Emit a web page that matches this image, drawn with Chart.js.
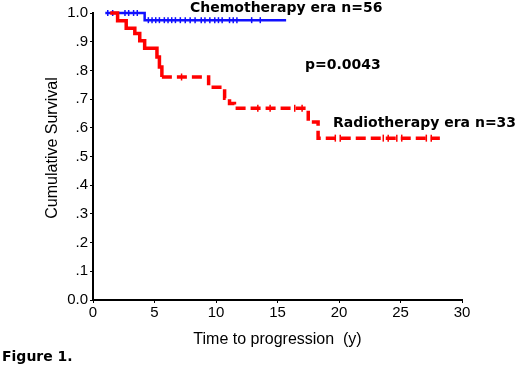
<!DOCTYPE html>
<html lang="en">

<head>
    <meta charset="UTF-8">
    <title>Figure 1</title>
    <script src="https://cdn.jsdelivr.net/npm/chart.js"></script>
    <style>
        html, body { margin: 0; padding: 0; background: #fff; }
        #grafico { display: block; }
    </style>
</head>

<body>
    <canvas id="grafico" width="520" height="368"></canvas>

<script>
    // tempos (anos) e sobrevida acumulada
    const tempoQuimio = [1.0, 4.2, 15.7];
    const sobrevidaQuimio = [1.0, 0.975, 0.975];
    const censuraQuimio = [1.2, 1.6, 2.6, 2.9, 3.3, 3.6, 4.5, 4.8, 5.1, 5.4, 5.8, 6.1, 6.4, 6.7, 7.1, 7.5, 7.9, 8.3,
        8.8, 9.1, 9.5, 9.9, 10.2, 10.5, 11.1, 11.4, 11.7, 12.9, 13.6];

    const tempoRadio = [1.4, 2.0, 2.7, 3.4, 3.8, 4.2, 5.2, 5.4, 5.6, 9.4, 10.7, 11.1, 11.5, 17.5, 18.3, 28.2];
    const sobrevidaRadio = [1.0, 0.973, 0.947, 0.929, 0.903, 0.877, 0.847, 0.812, 0.777, 0.741, 0.703, 0.685, 0.668,
        0.62, 0.564, 0.564];
    const censuraRadio = [7.2, 13.4, 14.4, 16.4, 17.0, 19.7, 20.1, 23.6, 24.0, 24.7, 25.1, 27.1, 27.5];

    const ticksX = [0, 5, 10, 15, 20, 25, 30];
    const rotulosY = ['0.0', '.1', '.2', '.3', '.4', '.5', '.6', '.7', '.8', '.9', '1.0'];

    const rotuloQuimio = 'Chemotherapy era n=56';
    const rotuloRadio = 'Radiotherapy era n=33';
    const rotuloP = 'p=0.0043';

    // nivel da curva num tempo t (degrau)
    function nivel(tempos, valores, t) {
        let v = valores[0];
        for (let i = 0; i < tempos.length; i++) {
            if (tempos[i] <= t) v = valores[i];
        }
        return v;
    }

    function pontos(tempos, valores) {
        return tempos.map((t, i) => ({ x: t, y: valores[i] }));
    }

    function pontosCensura(censuras, tempos, valores) {
        return censuras.map(t => ({ x: t, y: nivel(tempos, valores, t) }));
    }

    const azul = '#1010ff';
    const vermelho = '#ff0000';

    const textos = {
        id: 'textos',
        afterDraw(chart) {
            const ctx = chart.ctx;
            ctx.save();
            ctx.fillStyle = '#000';
            ctx.textBaseline = 'middle';
            ctx.textAlign = 'left';
            ctx.font = 'bold 14px "DejaVu Sans"';
            ctx.fillText(rotuloQuimio, 190, 8);
            ctx.fillText(rotuloP, 305, 65);
            ctx.fillText(rotuloRadio, 333, 123);
            ctx.fillText('Figure 1.', 2, 357);

            ctx.font = '16px "Liberation Sans", Arial';
            ctx.textAlign = 'center';
            ctx.translate(53, 148);
            ctx.rotate(-Math.PI / 2);
            ctx.fillText('Cumulative Survival', 0, 0);
            ctx.restore();
        }
    };

    const config = {
        type: 'line',
        data: {
            datasets: [{
                label: rotuloQuimio,
                data: pontos(tempoQuimio, sobrevidaQuimio),
                borderColor: azul,
                borderWidth: 2.5,
                stepped: 'before',
                pointRadius: 0,
                fill: false,
                clip: 6,
                order: 2
            },
            {
                label: rotuloRadio,
                data: pontos(tempoRadio, sobrevidaRadio),
                borderColor: vermelho,
                borderWidth: 3.5,
                stepped: 'before',
                pointRadius: 0,
                fill: false,
                clip: 6,
                order: 1,
                segment: {
                    borderDash: c => c.p0.parsed.x >= 5.6 ? [10, 5] : undefined
                }
            },
            {
                label: 'censura quimio',
                data: pontosCensura(censuraQuimio, tempoQuimio, sobrevidaQuimio),
                showLine: false,
                pointStyle: 'line',
                rotation: 90,
                pointRadius: 3,
                pointBorderWidth: 1.5,
                pointBorderColor: azul,
                clip: 6,
                order: 2
            },
            {
                label: 'censura radio',
                data: pontosCensura(censuraRadio, tempoRadio, sobrevidaRadio),
                showLine: false,
                pointStyle: 'line',
                rotation: 90,
                pointRadius: 3.5,
                pointBorderWidth: 1.5,
                pointBorderColor: vermelho,
                clip: 6,
                order: 0
            }]
        },
        options: {
            responsive: false,
            animation: false,
            devicePixelRatio: 1,
            layout: { padding: { top: 13, right: 58, left: 0, bottom: 0 } },
            plugins: {
                legend: { display: false },
                tooltip: { enabled: false }
            },
            scales: {
                x: {
                    type: 'linear',
                    min: 0,
                    max: 30,
                    afterBuildTicks: s => { s.ticks = ticksX.map(v => ({ value: v })); },
                    ticks: {
                        color: '#000',
                        font: { family: '"Liberation Sans", Arial', size: 15 },
                        padding: 1,
                        maxRotation: 0
                    },
                    grid: { drawOnChartArea: false, drawTicks: true, tickLength: 3, color: '#000' },
                    border: { display: true, color: '#000', width: 2 },
                    title: {
                        display: true,
                        text: 'Time to progression  (y)',
                        color: '#000',
                        font: { family: '"Liberation Sans", Arial', size: 16 },
                        padding: { top: 4, bottom: 19 }
                    },
                    afterFit: s => { s.height = 68; }
                },
                y: {
                    min: 0,
                    max: 1,
                    afterBuildTicks: s => { s.ticks = rotulosY.map((r, i) => ({ value: i / 10 })); },
                    ticks: {
                        color: '#000',
                        font: { family: '"Liberation Sans", Arial', size: 15 },
                        padding: 2,
                        callback: (v, i) => rotulosY[i]
                    },
                    grid: { drawOnChartArea: false, drawTicks: true, tickLength: 3, color: '#000' },
                    border: { display: true, color: '#000', width: 2 },
                    afterFit: s => { s.width = 93; }
                }
            }
        },
        plugins: [textos]
    };

    let grafico = new Chart(document.getElementById('grafico'), config);
</script>
</body>

</html>
